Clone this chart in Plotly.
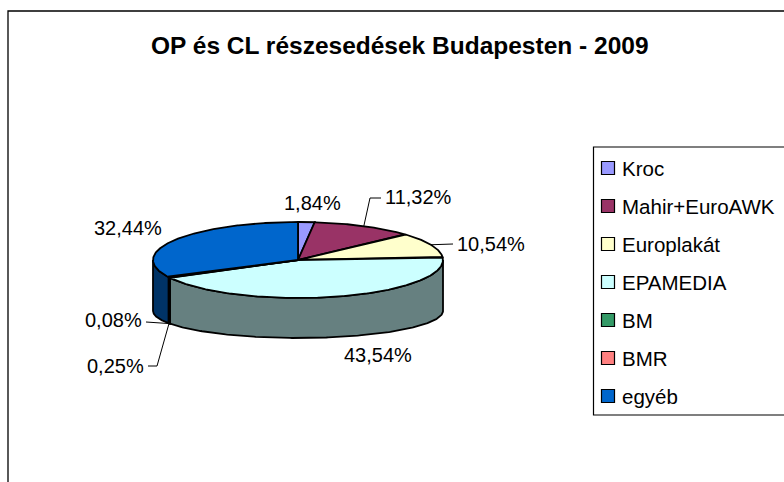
import numpy as np
import plotly.graph_objects as go

# ---------------- data ----------------
categories = ["Kroc", "Mahir+EuroAWK", "Europlakát", "EPAMEDIA", "BM", "BMR", "egyéb"]
values = [1.84, 11.32, 10.54, 43.54, 0.08, 0.25, 32.44]
title_text = "OP és CL részesedések Budapesten - 2009"

# ---------------- styles ----------------
top_colors = ["#9999FF", "#993366", "#FFFFCC", "#CCFFFF", "#339966", "#FF8080", "#0066CC"]
side_colors = ["#4C4C80", "#4C1933", "#808066", "#668080", "#1A4C33", "#804040", "#003366"]
FONT = "Liberation Sans"

W, H = 784, 482
# pie geometry (pixels)
CX, CY, RX, RY = 298, 260, 145, 38      # top face ellipse
BCY, BRY = 311, 27                       # bottom ellipse (perspective)

# label layout: text centre and leader elbow points (None = no leader)
label_layout = {
    "Kroc": dict(pos=(312, 203), leader=None),
    "Mahir+EuroAWK": dict(pos=(418, 197), leader=[(370, 198), (381, 198)], anchor="top"),
    "Europlakát": dict(pos=(491, 244), leader=[(453, 244)], anchor="top"),
    "EPAMEDIA": dict(pos=(378, 355), leader=None),
    "BM": dict(pos=(113, 320), leader=[(146, 322)], anchor="bottom"),
    "BMR": dict(pos=(115, 366), leader=[(157, 366), (148, 366)], anchor="bottom"),
    "egyéb": dict(pos=(128, 228), leader=None),
}


def top_pt(th):
    r = np.radians(th)
    return CX + RX * np.sin(r), CY - RY * np.cos(r)


def bot_pt(th):
    r = np.radians(th)
    return CX + RX * np.sin(r), BCY - BRY * np.cos(r)


total = sum(values)
cum = np.concatenate([[0], np.cumsum(values)]) / total * 360.0

fig = go.Figure()

# side faces (visible between 90 and 270 degrees)
for i, cat in enumerate(categories):
    a1, a2 = cum[i], cum[i + 1]
    c1, c2 = max(a1, 90), min(a2, 270)
    if c2 <= c1:
        continue
    th = np.linspace(c1, c2, 200)
    tx, ty = top_pt(th)
    bx, by = bot_pt(th[::-1])
    xs = np.concatenate([tx, bx, tx[:1]])
    ys = np.concatenate([ty, by, ty[:1]])
    fig.add_trace(go.Scatter(x=xs, y=ys, mode="lines", fill="toself",
                             fillcolor=side_colors[i],
                             line=dict(color="black", width=1.8),
                             hoverinfo="skip", showlegend=False))

# top faces
for i, cat in enumerate(categories):
    a1, a2 = cum[i], cum[i + 1]
    n = max(int((a2 - a1) * 2), 4)
    th = np.linspace(a1, a2, n)
    tx, ty = top_pt(th)
    xs = np.concatenate([[CX], tx, [CX]])
    ys = np.concatenate([[CY], ty, [CY]])
    fig.add_trace(go.Scatter(x=xs, y=ys, mode="lines", fill="toself",
                             fillcolor=top_colors[i],
                             line=dict(color="black", width=1.8),
                             hoverinfo="skip", showlegend=False))

annotations = []
shapes = []

# labels + leader lines
for i, cat in enumerate(categories):
    lay = label_layout[cat]
    txt = f"{values[i]:.2f}".replace(".", ",") + "%"
    x, y = lay["pos"]
    annotations.append(dict(x=x, y=y, xref="x", yref="y", text=txt, showarrow=False,
                            xanchor="center", yanchor="middle",
                            font=dict(family=FONT, size=20, color="black")))
    if lay["leader"]:
        mid = (cum[i] + cum[i + 1]) / 2
        ax, ay = top_pt(mid) if lay["anchor"] == "top" else bot_pt(mid)
        pts = [(ax, ay)] + lay["leader"]
        fig.add_trace(go.Scatter(x=[p[0] for p in pts], y=[p[1] for p in pts],
                                 mode="lines", line=dict(color="black", width=1),
                                 hoverinfo="skip", showlegend=False))

# legend (manual, Excel style)
LEG_X0, LEG_Y0, LEG_Y1 = 593.5, 147, 415
LEG_ROW0, LEG_STEP = 168, 38
shapes.append(dict(type="rect", xref="x", yref="y", x0=LEG_X0, y0=LEG_Y0, x1=W + 10, y1=LEG_Y1,
                   line=dict(color="black", width=1.2), fillcolor="white", layer="below"))
leg_y = [LEG_ROW0 + k * LEG_STEP for k in range(len(categories))]
fig.add_trace(go.Scatter(x=[608] * len(categories), y=leg_y, mode="markers",
                         marker=dict(symbol="square", size=13, color=top_colors,
                                     line=dict(color="black", width=1.2)),
                         hoverinfo="skip", showlegend=False))
for k, cat in enumerate(categories):
    annotations.append(dict(x=620, y=leg_y[k], xref="x", yref="y", text=cat, showarrow=False,
                            xanchor="left", yanchor="middle",
                            font=dict(family=FONT, size=20.5, color="black")))

# chart frame
shapes.append(dict(type="rect", xref="x", yref="y", x0=8, y0=11, x1=W + 10, y1=H + 10,
                   line=dict(color="black", width=1.3), fillcolor="rgba(0,0,0,0)", layer="below"))

# title
annotations.append(dict(x=400, y=45, xref="x", yref="y", text=f"<b>{title_text}</b>",
                        showarrow=False, xanchor="center", yanchor="middle",
                        font=dict(family=FONT, size=24.5, color="black")))

fig.update_layout(
    width=W, height=H,
    margin=dict(l=0, r=0, t=0, b=0),
    paper_bgcolor="white", plot_bgcolor="white",
    xaxis=dict(range=[0, W], visible=False, fixedrange=True),
    yaxis=dict(range=[H, 0], visible=False, fixedrange=True),
    shapes=shapes, annotations=annotations,
    showlegend=False,
)

fig.write_html("out.html")
